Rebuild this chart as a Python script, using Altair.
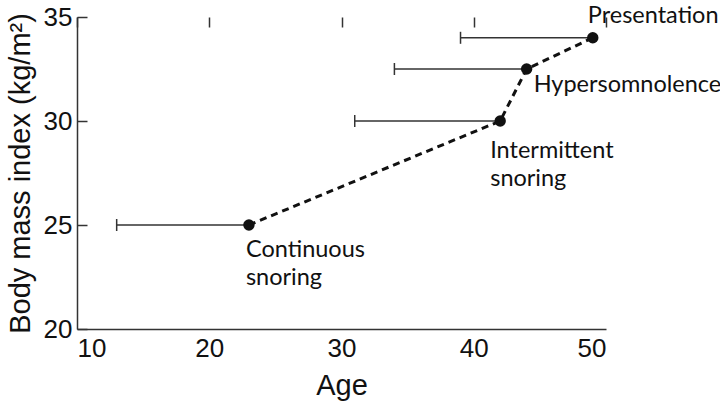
import altair as alt
import pandas as pd

# Mean age and BMI at each stage, with the lower end of the age range
stages = ["Continuous\nsnoring", "Intermittent\nsnoring", "Hypersomnolence", "Presentation"]
age = [23, 42, 44, 49]
age_low = [13, 31, 34, 39]
bmi = [25, 30, 32.5, 34]

x_ticks = [10, 20, 30, 40, 50]
y_ticks = [20, 25, 30, 35]

df = pd.DataFrame({"stage": stages, "age": age, "age_low": age_low, "bmi": bmi, "order": range(len(stages))})

W, H = 529, 312
TICK = 10
ink = "#111111"
axis_col = "#333333"

xs = alt.Scale(domain=[10, 50], nice=False, zero=False)
ys = alt.Scale(domain=[20, 35], nice=False, zero=False)

base = alt.Chart(df)

# Inward ticks are drawn as grid lines dashed down to their first few pixels
x_axis = alt.X("age:Q", scale=xs, axis=alt.Axis(
    title="Age", values=x_ticks, ticks=False,
    grid=True, gridColor=axis_col, gridWidth=1.5, gridOpacity=1, gridDash=[TICK, 2000],
    domainColor=axis_col, domainWidth=1.5, labelFont="Liberation Sans", labelFontSize=26,
    labelColor=ink, labelPadding=6, titleFont="Liberation Sans", titleFontSize=29,
    titleFontWeight="normal", titleColor=ink, titlePadding=10))
y_axis = alt.Y("bmi:Q", scale=ys, axis=alt.Axis(
    title="Body mass index (kg/m²)", values=y_ticks, ticks=False,
    grid=True, gridColor=axis_col, gridWidth=1.5, gridOpacity=1, gridDash=[TICK, 2000],
    domainColor=axis_col, domainWidth=1.5, labelFont="Liberation Sans", labelFontSize=26,
    labelColor=ink, labelPadding=5, titleFont="Liberation Sans", titleFontSize=29,
    titleFontWeight="normal", titleColor=ink, titlePadding=8))

err = base.mark_rule(color=axis_col, strokeWidth=1.5).encode(
    x=x_axis, x2="age_low:Q", y=y_axis)
cap = base.mark_tick(color=axis_col, thickness=1.5, size=12, orient="vertical", opacity=1).encode(
    x=alt.X("age_low:Q", scale=xs), y=alt.Y("bmi:Q", scale=ys))
line = base.mark_line(color=ink, strokeWidth=3, strokeDash=[7, 5]).encode(
    x=alt.X("age:Q", scale=xs), y=alt.Y("bmi:Q", scale=ys), order="order:Q")
pts = base.mark_circle(color=ink, opacity=1, size=130).encode(
    x=alt.X("age:Q", scale=xs), y=alt.Y("bmi:Q", scale=ys))

# Label offsets (dx, dy) from each point
offsets = [(-3, 32), (-10, 37), (7, 23), (-5, -15)]
labels = []
for i, (dx, dy) in enumerate(offsets):
    labels.append(
        base.transform_filter(alt.datum.order == i).mark_text(
            align="left", baseline="alphabetic", dx=dx, dy=dy, font="Lato",
            fontSize=23.5, color=ink, lineBreak="\n", lineHeight=28
        ).encode(x=alt.X("age:Q", scale=xs), y=alt.Y("bmi:Q", scale=ys), text="stage:N")
    )

chart = alt.layer(err, cap, line, pts, *labels).properties(
    width=W, height=H,
    autosize=alt.AutoSizeParams(type="none"),
    padding={"left": 77, "top": 17, "right": 114, "bottom": 81},
    background="white",
).configure_view(stroke=None)

chart.save("out.html", embed_options={"renderer": "svg", "actions": False})
